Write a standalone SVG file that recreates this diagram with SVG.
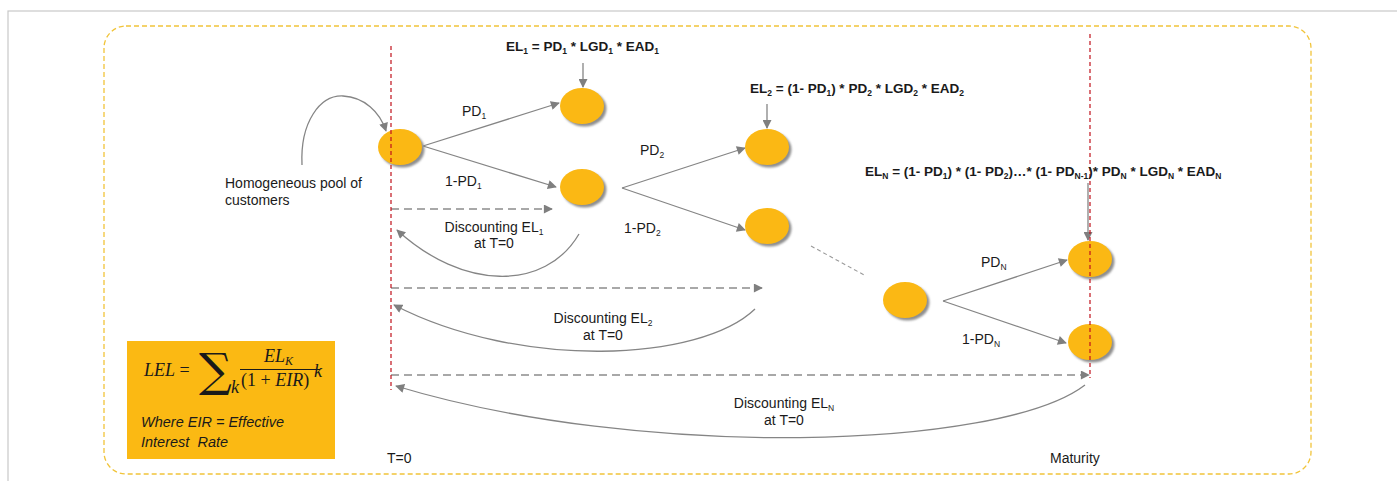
<svg xmlns="http://www.w3.org/2000/svg" width="1397" height="481" viewBox="0 0 1397 481">
  <style>
    .lbl { font-family: "Liberation Sans", Arial, sans-serif; font-size: 14px; fill: #1a1a1a; }
    .eq { font-family: "Liberation Sans", Arial, sans-serif; font-size: 13.5px; font-weight: bold; fill: #1a1a1a; }
    .sub { font-size: 8.5px; }
    .math { font-family: "Liberation Serif", "Times New Roman", serif; font-size: 18px; fill: #1a1a1a; }
    .mi { font-style: italic; }
    .note { font-family: "Liberation Sans", Arial, sans-serif; font-size: 14.5px; font-style: italic; fill: #1a1a1a; }
    .solid { fill: none; stroke: #858585; stroke-width: 1.3; }
    .dash { fill: none; stroke: #8c8c8c; stroke-width: 1.3; stroke-dasharray: 8 5; }
    .faint { fill: none; stroke: #9a9a9a; stroke-width: 1.1; stroke-dasharray: 4 3; }
    .tl { fill: none; stroke: #c0121b; stroke-width: 1.2; stroke-dasharray: 4 3; }
    .ball { fill: #fbb814; }
    .shade { fill: #8f8f8f; }
  </style>
  <defs>
    <marker id="arr" viewBox="0 0 10 10" refX="9" refY="5" markerWidth="10" markerHeight="9" markerUnits="userSpaceOnUse" orient="auto">
      <path d="M0,0 L10,5 L0,10 Z" fill="#7f7f7f"/>
    </marker>
    <filter id="soft" x="-20%" y="-20%" width="140%" height="140%">
      <feGaussianBlur stdDeviation="0.8"/>
    </filter>
    <g id="ball">
      <ellipse cx="2.5" cy="2.5" rx="22" ry="18" class="shade" filter="url(#soft)"/>
      <ellipse cx="0" cy="0" rx="22" ry="18" class="ball"/>
    </g>
  </defs>

  <rect width="1397" height="481" fill="#ffffff"/>
  <!-- page frame -->
  <rect x="8" y="11" width="1400" height="480" fill="none" stroke="#c8c8c8" stroke-width="1.2"/>
  <!-- dashed boundary -->
  <rect x="104" y="26" width="1207" height="448" rx="22" ry="22" fill="none" stroke="#f1c43a" stroke-width="1.3" stroke-dasharray="5 3"/>

  <!-- formula box -->
  <g id="lel-box">
    <rect x="127" y="341" width="208" height="118" fill="#fbb913"/>
    <text x="144" y="376" class="math"><tspan class="mi">LEL</tspan> =</text>
    <text x="199" y="386" font-family="DejaVu Serif, serif" font-size="46" fill="#1a1a1a">∑</text>
    <text x="231" y="393" class="math mi" font-size="12">k</text>
    <text x="264" y="362" class="math mi">EL<tspan font-size="12" dy="3">K</tspan></text>
    <line x1="240" y1="369.5" x2="320" y2="369.5" stroke="#1a1a1a" stroke-width="1"/>
    <text x="241" y="386" class="math">(1 + <tspan class="mi">EIR</tspan>)</text>
    <text x="314" y="377" class="math mi" font-size="12">k</text>
    <text x="141" y="427" class="note">Where EIR = Effective</text>
    <text x="141" y="447" class="note" xml:space="preserve">Interest  Rate</text>
  </g>

  <!-- connectors -->
  <g id="connectors">
    <path class="solid" d="M302,165 C300,122 320,95 343,96 C364,97 380,112 386,131" marker-end="url(#arr)"/>
    <line class="solid" x1="423" y1="146" x2="559" y2="103" marker-end="url(#arr)"/>
    <line class="solid" x1="423" y1="146" x2="556" y2="187" marker-end="url(#arr)"/>
    <line class="solid" x1="622" y1="188" x2="745" y2="148" marker-end="url(#arr)"/>
    <line class="solid" x1="622" y1="188" x2="745" y2="230" marker-end="url(#arr)"/>
    <line class="solid" x1="943" y1="301" x2="1067" y2="260" marker-end="url(#arr)"/>
    <line class="solid" x1="943" y1="301" x2="1066" y2="343" marker-end="url(#arr)"/>
    <line class="faint" x1="811" y1="246" x2="866" y2="276"/>
    <line class="solid" x1="583" y1="63" x2="583" y2="87" marker-end="url(#arr)"/>
    <line class="solid" x1="767" y1="104" x2="767" y2="128" marker-end="url(#arr)"/>
    <line class="solid" x1="1088" y1="183" x2="1088" y2="240" marker-end="url(#arr)"/>
    <line class="dash" x1="391" y1="209" x2="552" y2="209" marker-end="url(#arr)"/>
    <line class="dash" x1="391" y1="288" x2="762" y2="288" marker-end="url(#arr)"/>
    <line class="dash" x1="391" y1="375" x2="1089" y2="375" marker-end="url(#arr)"/>
    <path class="solid" d="M579,234 C545,292 462,290 397,230" marker-end="url(#arr)"/>
    <path class="solid" d="M755,309 C700,362 520,370 394,305" marker-end="url(#arr)"/>
    <path class="solid" d="M1085,385 C1000,450 640,460 396,386" marker-end="url(#arr)"/>
  </g>

  <!-- states -->
  <g id="root"><use href="#ball" x="400" y="147"/></g>
  <g id="default-1"><use href="#ball" x="582" y="106"/></g>
  <g id="survive-1"><use href="#ball" x="582" y="187"/></g>
  <g id="default-2"><use href="#ball" x="767" y="147"/></g>
  <g id="survive-2"><use href="#ball" x="767" y="226"/></g>
  <g id="survive-n-1"><use href="#ball" x="905" y="300"/></g>
  <g id="default-n"><use href="#ball" x="1090" y="259"/></g>
  <g id="survive-n"><use href="#ball" x="1090" y="342"/></g>

  <!-- time markers -->
  <g id="timeline">
    <line class="tl" x1="391" y1="46" x2="391" y2="390"/>
    <line class="tl" x1="1090" y1="34" x2="1090" y2="378"/>
    <text x="387" y="463" class="lbl" font-size="13">T=0</text>
    <text x="1050" y="463" class="lbl" font-size="13">Maturity</text>
  </g>

  <!-- labels -->
  <g id="labels">
    <text x="506" y="51" class="eq">EL<tspan class="sub" dy="3">1</tspan><tspan dy="-3"> = PD</tspan><tspan class="sub" dy="3">1</tspan><tspan dy="-3"> * LGD</tspan><tspan class="sub" dy="3">1</tspan><tspan dy="-3"> * EAD</tspan><tspan class="sub" dy="3">1</tspan></text>
    <text x="750" y="93" class="eq">EL<tspan class="sub" dy="3">2</tspan><tspan dy="-3"> = (1- PD</tspan><tspan class="sub" dy="3">1</tspan><tspan dy="-3">) * PD</tspan><tspan class="sub" dy="3">2</tspan><tspan dy="-3"> * LGD</tspan><tspan class="sub" dy="3">2</tspan><tspan dy="-3"> * EAD</tspan><tspan class="sub" dy="3">2</tspan></text>
    <text x="865" y="176" class="eq">EL<tspan class="sub" dy="3">N</tspan><tspan dy="-3"> = (1- PD</tspan><tspan class="sub" dy="3">1</tspan><tspan dy="-3">) * (1- PD</tspan><tspan class="sub" dy="3">2</tspan><tspan dy="-3">)…* (1- PD</tspan><tspan class="sub" dy="3">N-1</tspan><tspan dy="-3">)* PD</tspan><tspan class="sub" dy="3">N</tspan><tspan dy="-3"> * LGD</tspan><tspan class="sub" dy="3">N</tspan><tspan dy="-3"> * EAD</tspan><tspan class="sub" dy="3">N</tspan></text>

    <text x="462" y="116" class="lbl">PD<tspan class="sub" dy="3">1</tspan></text>
    <text x="445" y="186" class="lbl">1-PD<tspan class="sub" dy="3">1</tspan></text>
    <text x="640" y="155" class="lbl">PD<tspan class="sub" dy="3">2</tspan></text>
    <text x="624" y="233" class="lbl">1-PD<tspan class="sub" dy="3">2</tspan></text>
    <text x="981" y="267" class="lbl">PD<tspan class="sub" dy="3">N</tspan></text>
    <text x="962" y="344" class="lbl">1-PD<tspan class="sub" dy="3">N</tspan></text>

    <text x="225" y="188" class="lbl" font-size="14.5">Homogeneous pool of</text>
    <text x="225" y="205" class="lbl" font-size="14.5">customers</text>

    <text x="494" y="232" class="lbl" text-anchor="middle">Discounting EL<tspan class="sub" dy="3">1</tspan></text>
    <text x="494" y="248" class="lbl" text-anchor="middle">at T=0</text>
    <text x="603" y="323" class="lbl" text-anchor="middle">Discounting EL<tspan class="sub" dy="3">2</tspan></text>
    <text x="603" y="340" class="lbl" text-anchor="middle">at T=0</text>
    <text x="784" y="408" class="lbl" text-anchor="middle">Discounting EL<tspan class="sub" dy="3">N</tspan></text>
    <text x="784" y="425" class="lbl" text-anchor="middle">at T=0</text>
  </g>
</svg>
